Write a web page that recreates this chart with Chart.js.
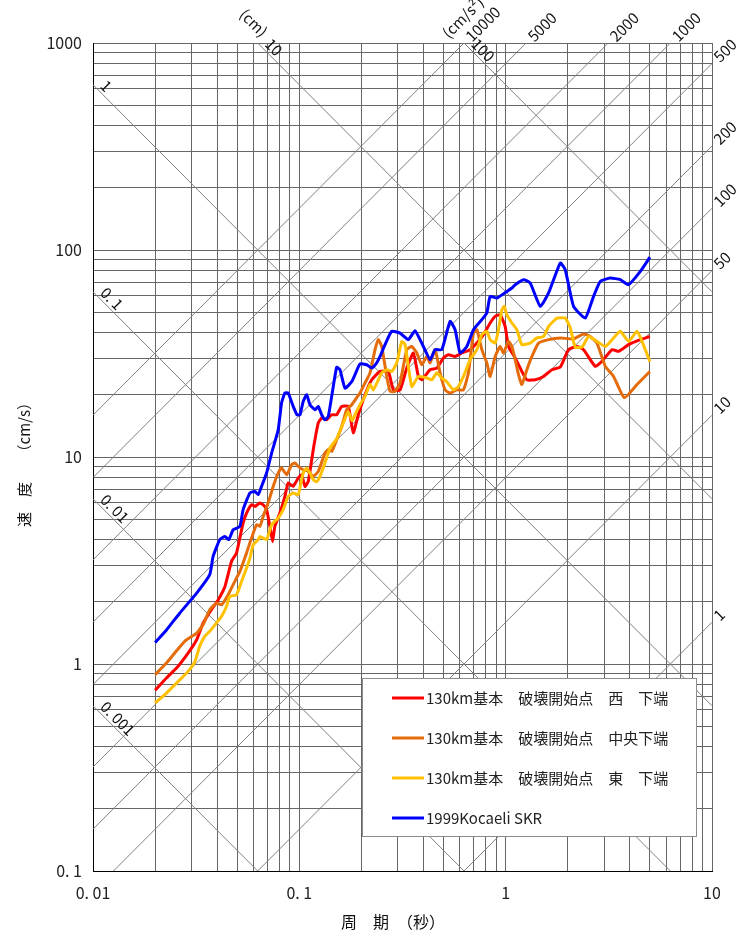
<!DOCTYPE html>
<html lang="ja">
<head>
<meta charset="utf-8">
<title>速度応答スペクトル</title>
<script src="https://cdn.jsdelivr.net/npm/chart.js@4.4.1/dist/chart.umd.min.js"></script>
<style>
  html, body { margin: 0; padding: 0; background: #fff; }
  #chartBox { position: relative; width: 738px; height: 934px; }
</style>
</head>
<body>
<div id="chartBox"><canvas id="spectrum" width="738" height="934"></canvas></div>
<script>
// 擬似速度応答スペクトル（三軸図）: 周期 [s] × 速度 [cm/s]

var periodWest = [0.02, 0.0227, 0.0254, 0.0289, 0.0318, 0.0342, 0.0375, 0.0404, 0.0436, 0.0469,
    0.0496, 0.0515, 0.0534, 0.0555, 0.0587, 0.0609, 0.0644, 0.0668, 0.0694, 0.072,
    0.0742, 0.0761, 0.0805, 0.0851, 0.0883, 0.0934, 0.0988, 0.1026, 0.1065, 0.1105,
    0.1168, 0.1235, 0.1283, 0.1357, 0.1435, 0.1517, 0.1604, 0.1727, 0.1826, 0.1931,
    0.2082, 0.2243, 0.2461, 0.27, 0.2855, 0.3077, 0.3316, 0.357, 0.3776, 0.3921,
    0.4302, 0.4638, 0.4993, 0.5278, 0.5689, 0.6131, 0.6726, 0.7251, 0.7805, 0.8409,
    0.8895, 0.9403, 0.9945, 1.032, 1.112, 1.198, 1.267, 1.39, 1.525, 1.676,
    1.839, 2.017, 2.216, 2.386, 2.718, 2.93, 3.276, 3.526, 3.942, 4.494, 5.0];
var svWest = [0.746, 0.856, 0.956, 1.13, 1.31, 1.58, 1.83, 2.04, 2.37, 3.13,
    3.44, 4.07, 4.80, 5.36, 5.88, 5.77, 5.99, 5.88, 5.57, 4.62,
    3.90, 4.62, 5.36, 6.45, 7.49, 7.21, 7.92, 8.21, 7.21, 7.62,
    10.85, 14.6, 15.43, 15.14, 16.0, 16.0, 17.55, 17.55, 13.1, 16.0,
    20.0, 23.6, 25.9, 25.9, 21.1, 21.1, 26.9, 31.8, 24.5, 23.6,
    26.4, 26.9, 30.1, 31.2, 30.6, 31.8, 33.0, 35.5, 39.0, 44.4,
    47.8, 48.7, 42.7, 34.2, 30.1, 25.9, 23.6, 23.6, 24.5, 26.4,
    27.2, 33.0, 34.2, 33.0, 27.4, 29.0, 33.0, 32.4, 34.9, 36.9, 38.2];

var periodCenter = [0.02, 0.0227, 0.0249, 0.0279, 0.0318, 0.0342, 0.0368, 0.0397, 0.042, 0.0452,
    0.0478, 0.0515, 0.0555, 0.0587, 0.0621, 0.0644, 0.0668, 0.0706, 0.0747, 0.079,
    0.082, 0.0868, 0.0918, 0.0952, 0.0988, 0.1044, 0.1105, 0.1168, 0.1235, 0.1331,
    0.1381, 0.1435, 0.1517, 0.1604, 0.1696, 0.1794, 0.1897, 0.1968, 0.2082, 0.2201,
    0.2328, 0.2414, 0.2507, 0.2652, 0.2753, 0.291, 0.3077, 0.3316, 0.3507, 0.3709,
    0.3921, 0.4147, 0.4302, 0.455, 0.481, 0.5086, 0.5379, 0.5797, 0.6241, 0.66,
    0.698, 0.7251, 0.7665, 0.8104, 0.8409, 0.8895, 0.9403, 0.9757, 1.032, 1.072,
    1.112, 1.154, 1.198, 1.267, 1.34, 1.443, 1.614, 1.839, 2.133, 2.386,
    2.57, 2.77, 3.04, 3.334, 3.758, 4.331, 5.0];
var svCenter = [0.888, 1.01, 1.13, 1.29, 1.41, 1.55, 1.83, 1.97, 1.93, 2.16,
    2.42, 2.80, 3.44, 4.07, 4.71, 4.62, 5.16, 5.99, 7.21, 8.37,
    8.85, 8.21, 9.18, 9.35, 9.01, 8.68, 8.52, 8.06, 8.52, 10.45,
    10.85, 10.64, 12.12, 14.0, 16.93, 17.89, 19.34, 20.38, 22.8, 25.5,
    33.0, 36.9, 34.2, 24.5, 20.75, 20.75, 22.8, 33.0, 34.2, 31.8,
    27.9, 30.6, 28.5, 33.0, 25.5, 21.1, 20.38, 21.1, 21.1, 25.5,
    39.7, 41.2, 33.0, 28.5, 24.5, 30.6, 34.2, 31.8, 36.2, 34.2,
    29.5, 25.0, 22.4, 26.4, 30.6, 35.5, 36.9, 37.6, 37.2, 39.3,
    38.2, 35.5, 27.4, 24.5, 19.34, 22.4, 25.9];

var periodEast = [0.02, 0.0227, 0.0259, 0.0289, 0.0312, 0.0329, 0.0348, 0.0368, 0.0397, 0.042,
    0.0444, 0.046, 0.0496, 0.0525, 0.0555, 0.0576, 0.0598, 0.0632, 0.0644, 0.0694,
    0.0734, 0.079, 0.0835, 0.0883, 0.0934, 0.0988, 0.1007, 0.1044, 0.1085, 0.1126,
    0.1168, 0.1213, 0.1259, 0.1331, 0.1408, 0.1517, 0.1633, 0.1727, 0.18, 0.1861,
    0.1968, 0.2082, 0.2201, 0.2283, 0.2414, 0.2507, 0.2652, 0.2804, 0.2966, 0.3136,
    0.3254, 0.3507, 0.3776, 0.4147, 0.4385, 0.4638, 0.4902, 0.5183, 0.558, 0.5902,
    0.6241, 0.6726, 0.7251, 0.7665, 0.8104, 0.8409, 0.8895, 0.9226, 0.9585, 0.9833,
    1.013, 1.072, 1.133, 1.198, 1.315, 1.417, 1.525, 1.614, 1.772, 1.944,
    2.056, 2.174, 2.351, 2.522, 2.77, 3.04, 3.334, 3.594, 3.942, 4.331, 4.58, 5.0];
var svEast = [0.648, 0.724, 0.824, 0.921, 1.03, 1.22, 1.36, 1.44, 1.58, 1.70,
    1.90, 2.12, 2.16, 2.51, 2.91, 3.25, 3.77, 3.99, 4.13, 3.99,
    4.71, 5.07, 5.57, 6.45, 6.70, 6.58, 7.11, 8.37, 8.85, 8.37,
    7.77, 7.60, 8.06, 9.35, 11.06, 12.26, 14.6, 16.6, 14.97, 16.0,
    17.89, 19.63, 22.4, 21.1, 23.6, 25.5, 26.4, 25.9, 28.5, 36.1,
    34.9, 21.9, 24.5, 24.1, 23.6, 25.5, 24.1, 23.1, 21.1, 21.9,
    24.5, 29.5, 33.0, 39.0, 40.5, 36.9, 35.5, 41.2, 51.5, 53.4,
    48.7, 44.4, 41.2, 34.9, 35.5, 37.6, 38.2, 42.7, 46.9, 46.9,
    42.1, 33.9, 34.1, 38.2, 36.2, 34.2, 37.6, 40.5, 36.2, 40.5, 36.2, 28.9];

var periodKocaeli = [0.02, 0.0227, 0.0263, 0.0318, 0.0368, 0.0382, 0.0412, 0.0436, 0.0455, 0.0478,
    0.0515, 0.0534, 0.0576, 0.0609, 0.0632, 0.0656, 0.0694, 0.0734, 0.079, 0.082,
    0.0851, 0.0883, 0.0934, 0.0974, 0.1007, 0.1044, 0.1085, 0.1126, 0.1191, 0.1235,
    0.1283, 0.1331, 0.1381, 0.1435, 0.1517, 0.1574, 0.1665, 0.1794, 0.1861, 0.1968,
    0.2121, 0.2243, 0.2371, 0.2461, 0.2602, 0.2804, 0.3077, 0.3376, 0.3638, 0.3991,
    0.4302, 0.455, 0.4902, 0.5379, 0.5689, 0.6015, 0.6481, 0.698, 0.7665, 0.8104,
    0.8409, 0.9065, 1.013, 1.072, 1.112, 1.22, 1.315, 1.471, 1.614, 1.839,
    1.944, 2.133, 2.431, 2.667, 2.873, 3.214, 3.594, 3.942, 4.494, 5.0];
var svKocaeli = [1.27, 1.46, 1.76, 2.20, 2.70, 3.31, 3.99, 4.13, 3.99, 4.45,
    4.62, 5.57, 6.70, 6.82, 6.58, 7.21, 8.37, 10.45, 13.55, 18.23,
    20.38, 20.38, 17.55, 16.0, 16.0, 18.56, 20.0, 17.89, 16.93, 17.55,
    16.0, 15.14, 15.71, 19.63, 27.15, 26.4, 21.5, 23.1, 24.98, 28.2,
    27.9, 26.9, 28.5, 30.6, 34.9, 40.5, 39.7, 36.9, 40.7, 34.2,
    29.5, 33.0, 33.0, 45.2, 41.2, 31.8, 34.2, 41.2, 46.1, 49.6,
    59.7, 58.6, 63.1, 65.5, 68.0, 71.9, 69.3, 53.4, 62.0, 86.5,
    80.3, 53.4, 46.9, 59.7, 70.5, 73.2, 71.9, 68.0, 78.8, 92.3];

var seriesLabels = [
    '130km基本　破壊開始点　西　下端',
    '130km基本　破壊開始点　中央下端',
    '130km基本　破壊開始点　東　下端',
    '1999Kocaeli SKR'
];

// 目盛
var xGridValues = [0.01, 0.02, 0.03, 0.04, 0.05, 0.06, 0.07, 0.08, 0.09,
    0.1, 0.2, 0.3, 0.4, 0.5, 0.6, 0.7, 0.8, 0.9,
    1, 2, 3, 4, 5, 6, 7, 8, 9, 10];
var yGridValues = [0.1, 0.2, 0.3, 0.4, 0.5, 0.6, 0.7, 0.8, 0.9,
    1, 2, 3, 4, 5, 6, 7, 8, 9,
    10, 20, 30, 40, 50, 60, 70, 80, 90,
    100, 200, 300, 400, 500, 600, 700, 800, 900, 1000];
var xTickValues = [0.01, 0.1, 1, 10];
var xTickLabels = ['0. 01', '0. 1', '1', '10'];
var yTickValues = [0.1, 1, 10, 100, 1000];
var yTickLabels = ['0. 1', '1', '10', '100', '1000'];

// 斜め線: 変位 (cm) と 加速度 (cm/s2)
var dispLines = [0.001, 0.01, 0.1, 1, 10, 100];
var dispLabels = ['0. 001', '0. 01', '0. 1', '1', '10', '100'];
var accLines = [10000, 5000, 2000, 1000, 500, 200, 100, 50, 10, 1];
var accLabels = ['10000', '5000', '2000', '1000', '500', '200', '100', '50', '10', '1'];

var TWO_PI = 2 * Math.PI;
var FONT = "'Noto Sans CJK JP', 'Noto Sans', sans-serif";

function toPoints(periods, values) {
    return periods.map(function (t, i) { return { x: t, y: values[i] }; });
}

function fixedTicks(values) {
    return function (scale) {
        scale.ticks = values.map(function (v) { return { value: v }; });
    };
}

function tickLabel(values, labels) {
    return function (v) {
        var i = values.indexOf(v);
        return i >= 0 ? labels[i] : '';
    };
}

// 変位一定・加速度一定の線とその数値
var tripartiteGrid = {
    id: 'tripartiteGrid',
    beforeDatasetsDraw: function (chart) {
        var ctx = chart.ctx, a = chart.chartArea;
        var xs = chart.scales.x, ys = chart.scales.y;
        ctx.save();
        ctx.beginPath();
        ctx.rect(a.left, a.top, a.right - a.left, a.bottom - a.top);
        ctx.clip();
        ctx.strokeStyle = '#808080';
        ctx.lineWidth = 1;
        dispLines.forEach(function (d) {
            ctx.beginPath();
            ctx.moveTo(xs.getPixelForValue(xs.min), ys.getPixelForValue(TWO_PI * d / xs.min));
            ctx.lineTo(xs.getPixelForValue(xs.max), ys.getPixelForValue(TWO_PI * d / xs.max));
            ctx.stroke();
        });
        accLines.forEach(function (acc) {
            ctx.beginPath();
            ctx.moveTo(xs.getPixelForValue(xs.min), ys.getPixelForValue(acc * xs.min / TWO_PI));
            ctx.lineTo(xs.getPixelForValue(xs.max), ys.getPixelForValue(acc * xs.max / TWO_PI));
            ctx.stroke();
        });
        ctx.restore();
    },
    afterDraw: function (chart) {
        var ctx = chart.ctx;
        var xs = chart.scales.x, ys = chart.scales.y;
        var vmax = ys.max;
        ctx.save();
        ctx.fillStyle = '#111';
        ctx.font = '15px ' + FONT;

        // 変位: 左辺または上辺から入る点に沿って書く
        var down = Math.atan2(ys.getPixelForValue(1) - ys.getPixelForValue(10),
            xs.getPixelForValue(1) - xs.getPixelForValue(0.1));
        dispLines.forEach(function (d, i) {
            var t = TWO_PI * d / vmax, v = vmax;
            if (t < xs.min) { t = xs.min; v = TWO_PI * d / t; }
            ctx.save();
            ctx.translate(xs.getPixelForValue(t), ys.getPixelForValue(v));
            ctx.rotate(down);
            ctx.textAlign = 'left';
            ctx.textBaseline = 'bottom';
            ctx.fillText(dispLabels[i], 6, -1);
            if (d === 10) {
                ctx.fillText('(cm)', -33, -4);
            }
            ctx.restore();
        });

        // 加速度: 上辺または右辺から出る点の先に書く
        var up = -Math.atan2(ys.getPixelForValue(1) - ys.getPixelForValue(10),
            xs.getPixelForValue(10) - xs.getPixelForValue(1));
        accLines.forEach(function (acc, i) {
            var t = TWO_PI * vmax / acc, v = vmax;
            if (t > xs.max) { t = xs.max; v = acc * t / TWO_PI; }
            ctx.save();
            ctx.translate(xs.getPixelForValue(t), ys.getPixelForValue(v));
            ctx.rotate(up);
            ctx.textAlign = 'left';
            ctx.textBaseline = 'middle';
            ctx.fillText(accLabels[i], 6, 0);
            if (acc === 10000) {
                ctx.fillText('(cm/s²)', -8, -19);
            }
            ctx.restore();
        });

        // 軸タイトル
        ctx.font = '16px ' + FONT;
        ctx.textAlign = 'center';
        ctx.textBaseline = 'middle';
        ctx.fillText('周　期　（秒）', 393, 922);
        ctx.save();
        ctx.translate(24, 461);
        ctx.rotate(-Math.PI / 2);
        ctx.font = '15px ' + FONT;
        ctx.fillText('速　度　　（cm/s）', 0, 0);
        ctx.restore();
        ctx.restore();
    }
};

// 凡例（プロット内右下の枠）
var boxLegend = {
    id: 'boxLegend',
    afterDraw: function (chart) {
        var ctx = chart.ctx;
        var left = 362, top = 678, w = 335, h = 159;
        ctx.save();
        ctx.fillStyle = '#fff';
        ctx.fillRect(left, top, w, h);
        ctx.strokeStyle = '#8c8c8c';
        ctx.lineWidth = 1;
        ctx.strokeRect(left + 0.5, top + 0.5, w - 1, h - 1);
        ctx.font = '15px ' + FONT;
        ctx.textBaseline = 'middle';
        ctx.textAlign = 'left';
        chart.data.datasets.forEach(function (ds, i) {
            var yy = top + 20 + i * 40;
            ctx.strokeStyle = ds.borderColor;
            ctx.lineWidth = 3;
            ctx.beginPath();
            ctx.moveTo(392, yy);
            ctx.lineTo(424, yy);
            ctx.stroke();
            ctx.fillStyle = '#222';
            ctx.fillText(ds.label, 426, yy);
        });
        ctx.restore();
    }
};

Chart.defaults.font.family = FONT;
Chart.defaults.color = '#222';

var seriesColors = ['#ff0000', '#e46c0a', '#ffc000', '#0000ff'];
var seriesData = [
    toPoints(periodWest, svWest),
    toPoints(periodCenter, svCenter),
    toPoints(periodEast, svEast),
    toPoints(periodKocaeli, svKocaeli)
];

new Chart(document.getElementById('spectrum').getContext('2d'), {
    type: 'scatter',
    data: {
        datasets: seriesData.map(function (pts, i) {
            return {
                label: seriesLabels[i],
                data: pts,
                showLine: true,
                borderColor: seriesColors[i],
                backgroundColor: seriesColors[i],
                borderWidth: 3,
                pointRadius: 0,
                tension: 0.15,
                order: 4 - i
            };
        })
    },
    options: {
        responsive: false,
        animation: false,
        events: [],
        layout: { padding: { left: 0, right: 26, top: 43, bottom: 0 } },
        plugins: { legend: { display: false }, tooltip: { enabled: false } },
        scales: {
            x: {
                type: 'logarithmic',
                min: 0.01,
                max: 10,
                afterBuildTicks: fixedTicks(xGridValues),
                afterFit: function (scale) { scale.height = 63; },
                grid: { color: '#666', lineWidth: 1, drawTicks: false },
                border: { color: '#000', width: 1 },
                ticks: {
                    autoSkip: false,
                    maxRotation: 0,
                    minRotation: 0,
                    padding: 12,
                    color: '#222',
                    font: { size: 16 },
                    callback: tickLabel(xTickValues, xTickLabels)
                }
            },
            y: {
                type: 'logarithmic',
                min: 0.1,
                max: 1000,
                afterBuildTicks: fixedTicks(yGridValues),
                afterFit: function (scale) { scale.width = 93; },
                grid: { color: '#666', lineWidth: 1, drawTicks: false },
                border: { color: '#000', width: 1 },
                ticks: {
                    autoSkip: false,
                    padding: 11,
                    color: '#222',
                    font: { size: 16 },
                    callback: tickLabel(yTickValues, yTickLabels)
                }
            }
        }
    },
    plugins: [tripartiteGrid, boxLegend]
});
</script>
</body>
</html>
